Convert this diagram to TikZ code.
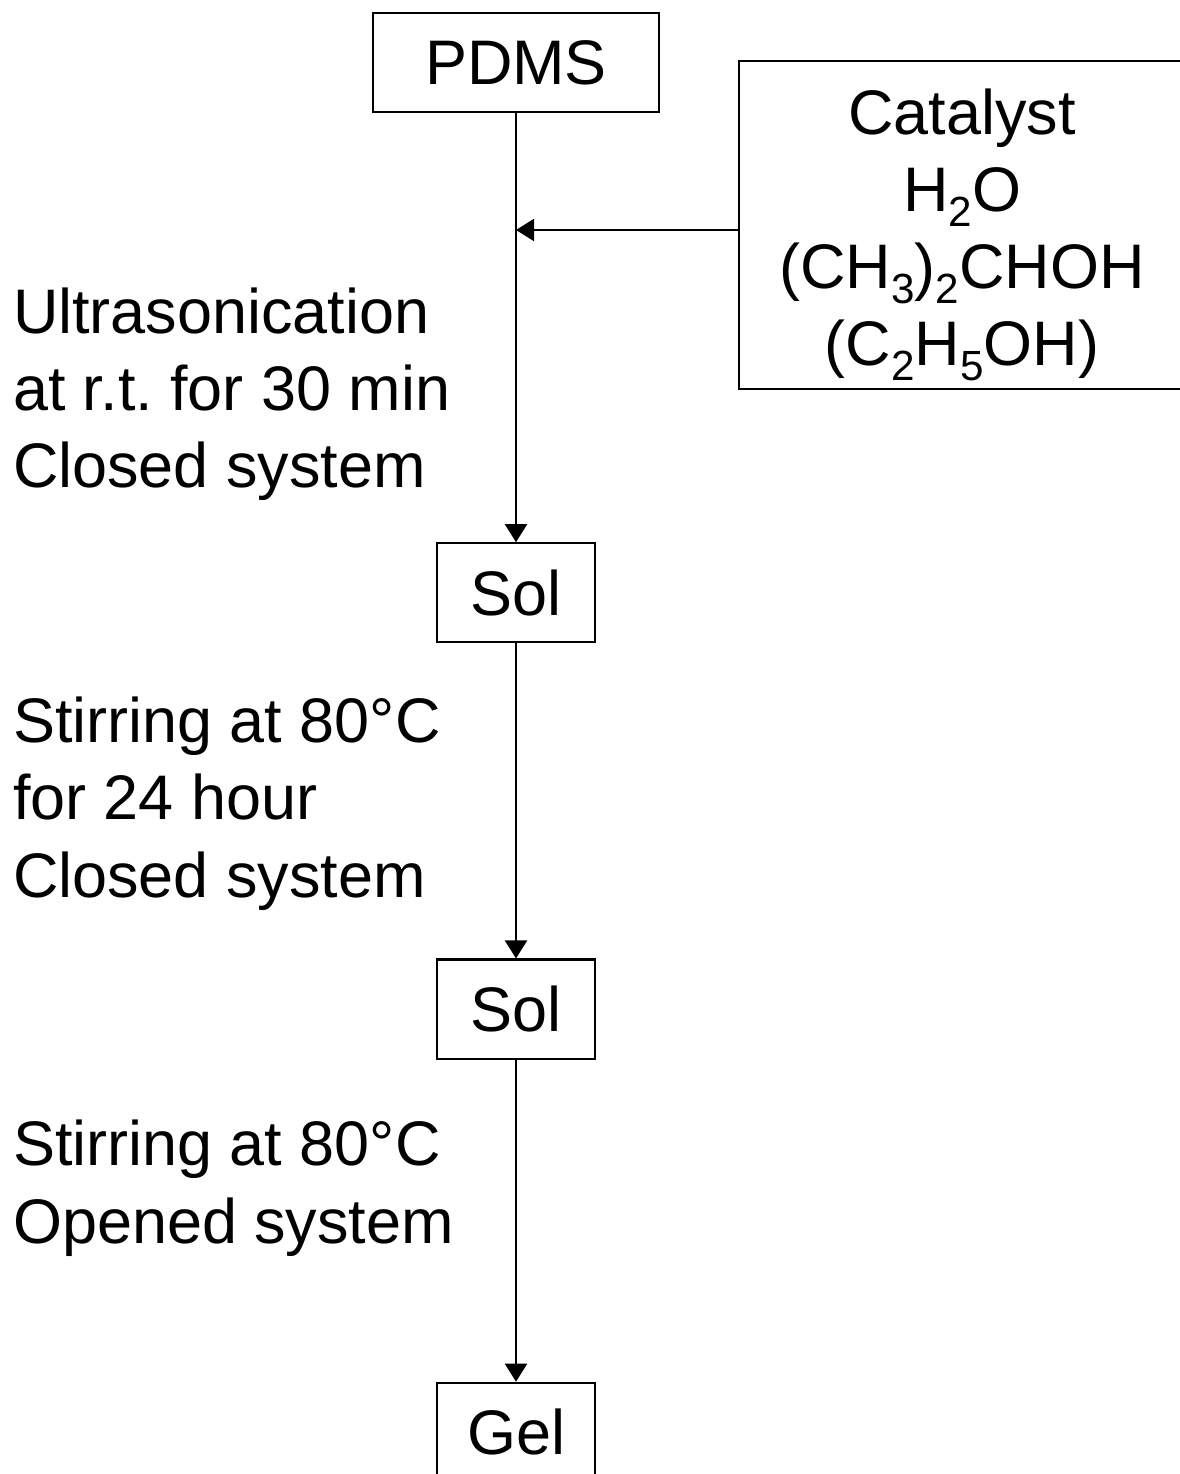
\documentclass[tikz,border=0pt]{standalone}
\usepackage{fontspec}
\setmainfont{Liberation Sans}
\usepackage{tikz}
\usetikzlibrary{positioning, arrows.meta}

\newcommand{\flowfont}{\fontsize{17.9}{21.9}\selectfont\frenchspacing}
\newcommand{\chemsub}[1]{\raisebox{-4.3pt}{\fontsize{12}{14}\selectfont #1}}

\begin{document}
\begin{tikzpicture}[x=0.01cm, y=-0.01cm, node distance=4cm, on grid,
    font=\flowfont, line width=0.6pt,
    >={Triangle[length=0.18cm, width=0.22cm]},
    box/.style={draw, minimum height=0.99cm, inner sep=0pt},
    note/.style={align=left, anchor=base west, inner sep=0pt}]
    \useasboundingbox (0,0) rectangle (1180,1474);

    % main line
    \node[box, minimum width=2.85cm] (pdms) at (516,62.5) {PDMS};
    \node[box, minimum width=1.58cm, below=5.30cm of pdms] (sol1) {Sol};
    \node[box, minimum width=1.58cm, below=4.16cm of sol1] (sol2) {Sol};
    \node[box, minimum width=1.58cm, below=4.23cm of sol2] (gel) {Gel};

    % additives
    \node[box, minimum width=4.46cm, minimum height=3.28cm, align=center] (cat) at (962,225)
        {\rule{0pt}{18.5pt}Catalyst\\H\chemsub{2}O\\(CH\chemsub{3})\chemsub{2}CHOH\\(C\chemsub{2}H\chemsub{5}OH)};
    \coordinate (feed) at (516,230);

    % conditions
    \node[note] (step1) at (12,488) {Ultrasonication\\at r.t. for 30 min\\Closed system};
    \node[note] (step2) at (12,897) {Stirring at 80°C\\for 24 hour\\Closed system};
    \node[note] (step3) at (12,1243) {Stirring at 80°C\\Opened system};

    \path[->]
        (pdms) edge (sol1)
        (sol1) edge (sol2)
        (sol2) edge (gel);
    \draw[->] (cat.west |- feed) -- (feed);
\end{tikzpicture}
\end{document}
